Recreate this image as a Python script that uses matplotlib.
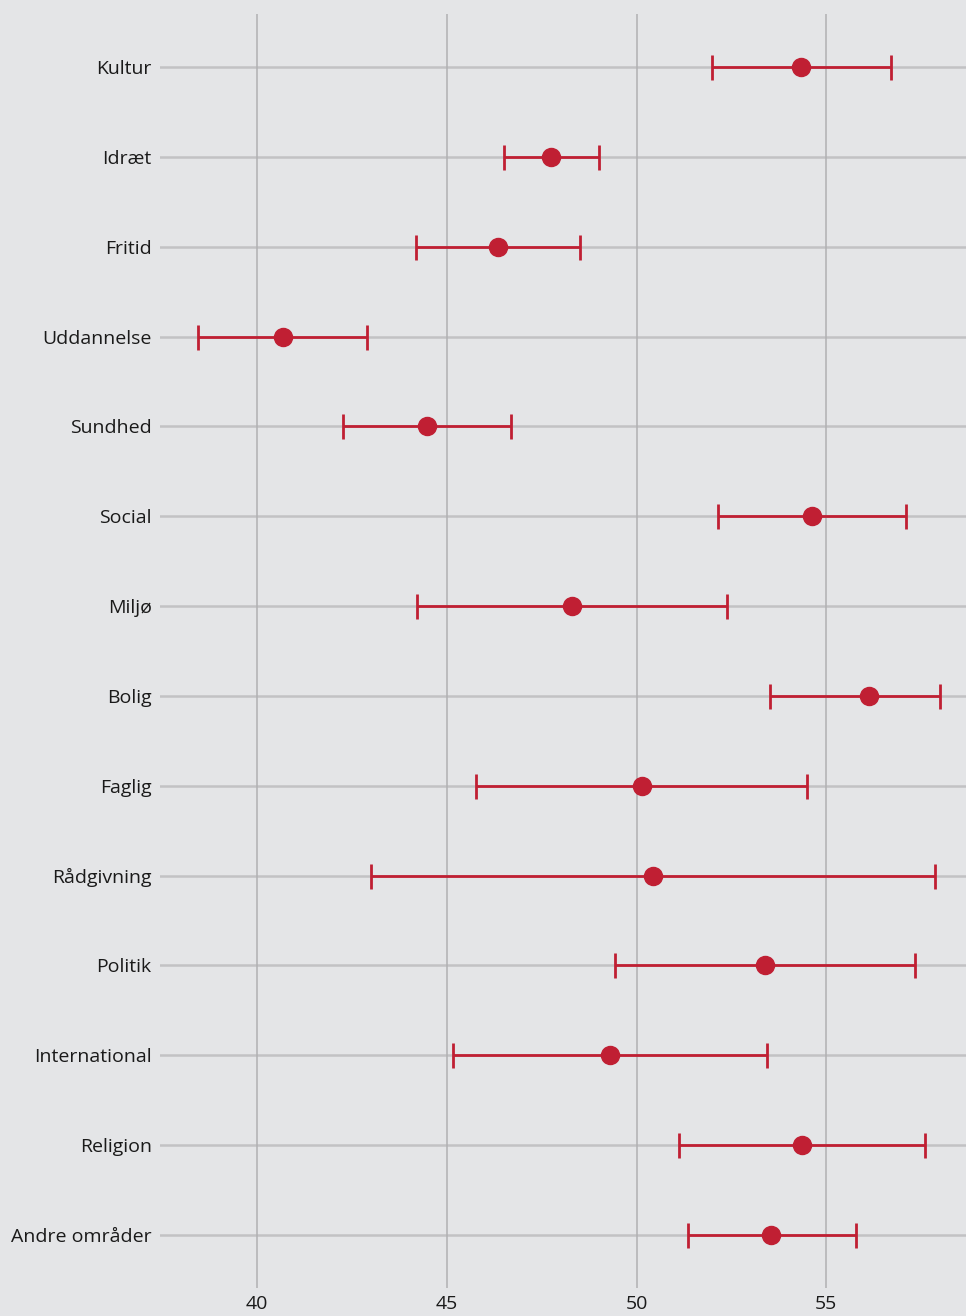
import matplotlib
matplotlib.use("Agg")
import matplotlib.pyplot as plt

categories = ["Kultur", "Idræt", "Fritid", "Uddannelse", "Sundhed", "Social", "Miljø",
              "Bolig", "Faglig", "Rådgivning", "Politik", "International", "Religion",
              "Andre områder"]
means = [54.33, 47.75, 46.35, 40.69, 44.48, 54.62, 48.30, 56.13, 50.13, 50.43, 53.39, 49.30, 54.36, 53.54]
lower = [51.99, 46.51, 44.19, 38.45, 42.27, 52.15, 44.22, 53.52, 45.77, 43.00, 49.44, 45.16, 51.12, 51.36]
upper = [56.70, 49.01, 48.50, 42.90, 46.69, 57.10, 52.38, 58.00, 54.48, 57.87, 57.34, 53.44, 57.60, 55.78]
xticks = [40, 45, 50, 55]

plt.rcParams['font.family'] = ['Open Sans', 'DejaVu Sans']

bg = "#e4e5e7"
red = "#c01f33"

fig = plt.figure(figsize=(9.66, 13.16), dpi=100, facecolor=bg)
ax = fig.add_axes([160/966, 28/1316, 806/966, 1274/1316])
ax.set_facecolor(bg)

ypos = list(range(len(categories)))
for y in ypos:
    ax.axhline(y, color="#c2c2c4", lw=1.8, zorder=1)
for x in xticks:
    ax.axvline(x, color="#b0b0b2", lw=1.1, zorder=1)

xerr = [[m - l for m, l in zip(means, lower)], [u - m for m, u in zip(means, upper)]]
ax.errorbar(means, ypos, xerr=xerr, fmt="o", color=red, ecolor=red, elinewidth=2,
            capsize=9, capthick=2, markersize=13, zorder=3)

ax.set_xlim(37.44, 58.68)
ax.set_ylim(13.59, -0.59)
ax.set_yticks(ypos)
ax.set_yticklabels(categories)
ax.set_xticks(xticks)
ax.tick_params(axis="both", length=0, labelsize=14, colors="#1a1a1a")
ax.tick_params(axis="y", pad=6)
ax.tick_params(axis="x", pad=5)
for s in ax.spines.values():
    s.set_visible(False)

fig.savefig("out.png", dpi=100, facecolor=bg)
